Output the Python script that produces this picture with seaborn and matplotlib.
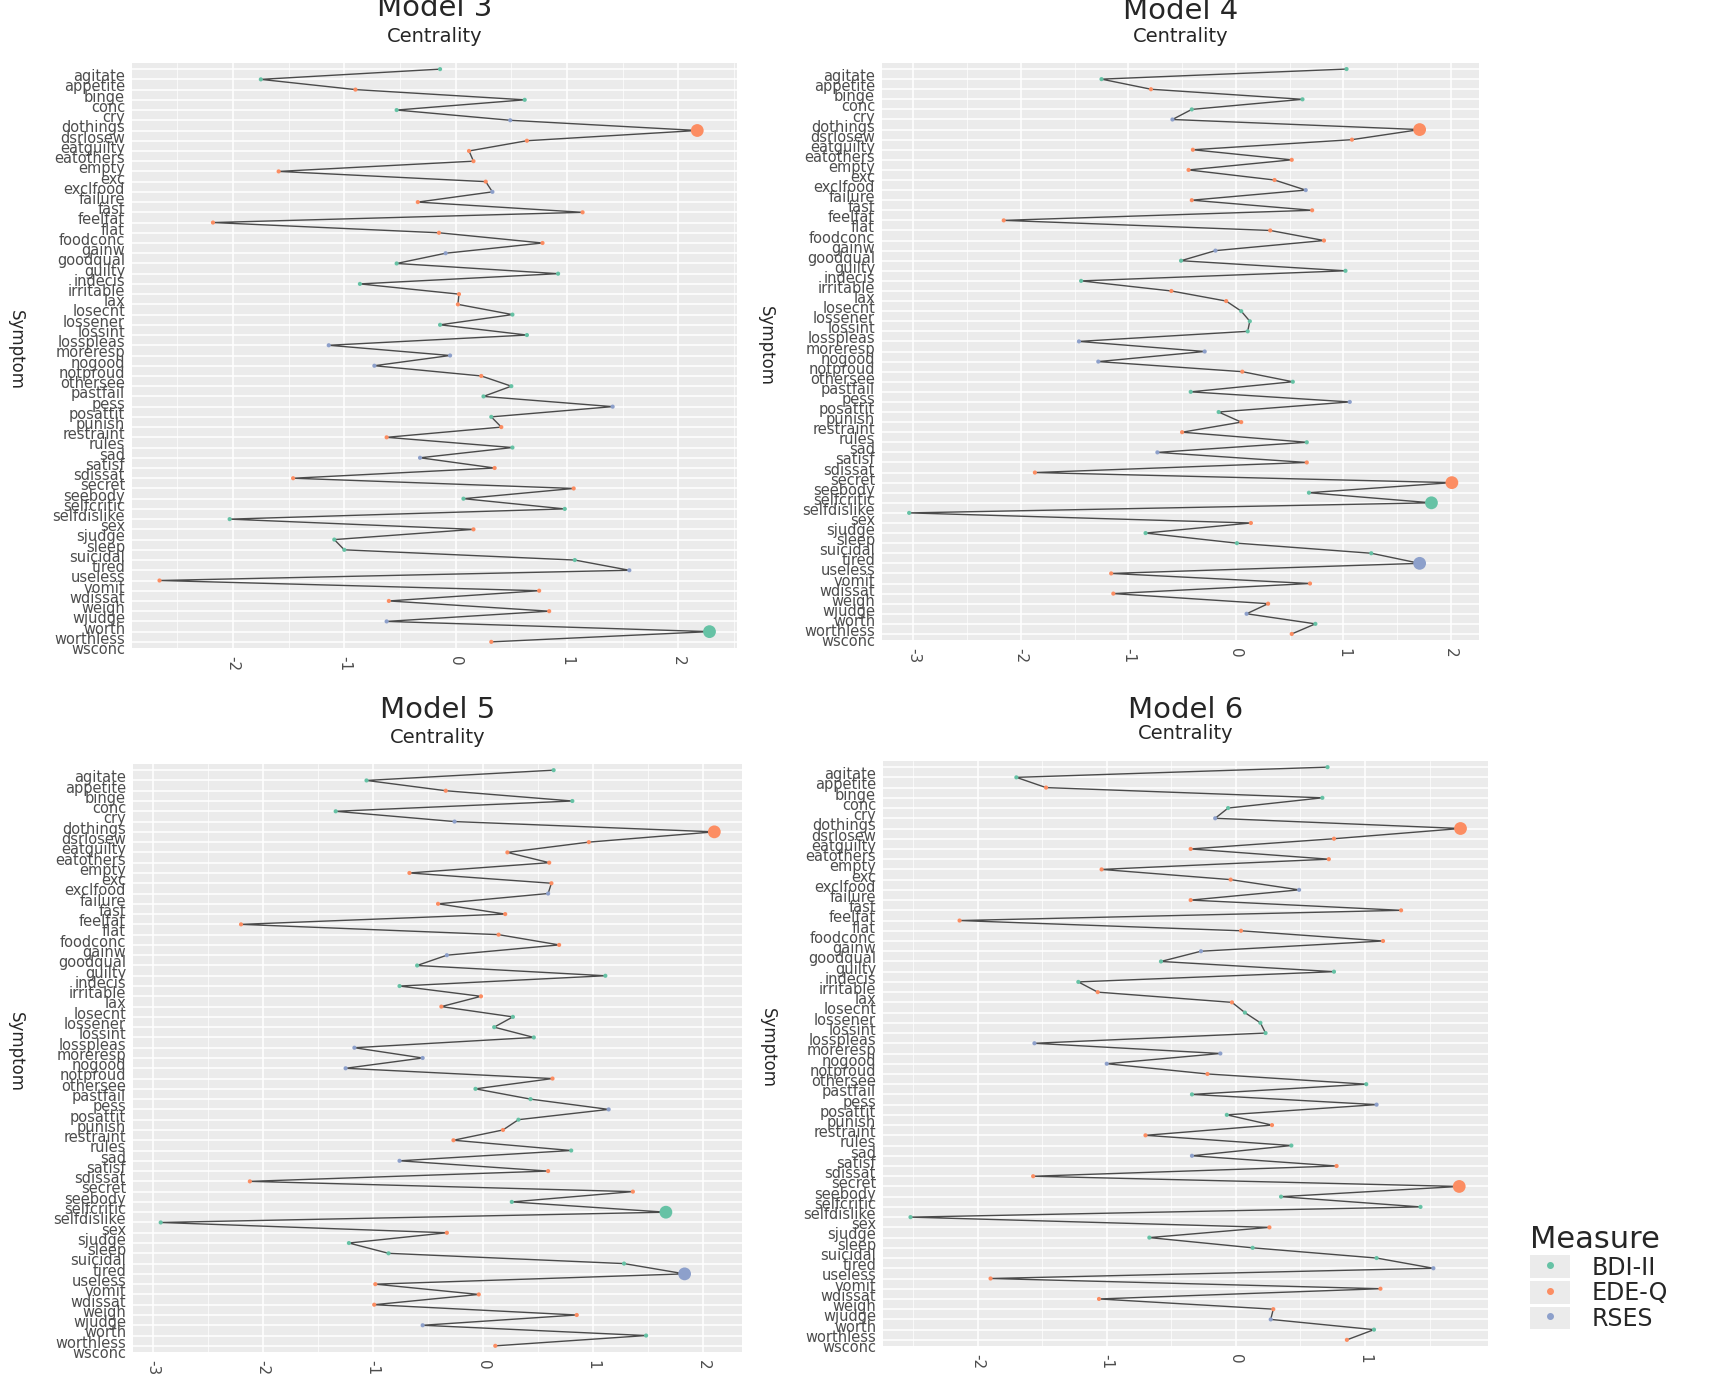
import numpy as np
import pandas as pd
import matplotlib
matplotlib.use('Agg')
import matplotlib.pyplot as plt
import matplotlib.ticker as mticker
import matplotlib.transforms as mtransforms
from matplotlib.patches import Patch
from matplotlib.lines import Line2D
from matplotlib.legend_handler import HandlerTuple
import seaborn as sns

# ── data ─────────────────────────────────────────────────────
symptoms = ['agitate', 'appetite', 'binge', 'conc', 'cry', 'dothings', 'dsrlosew',
            'eatguilty', 'eatothers', 'empty', 'exc', 'exclfood', 'failure', 'fast',
            'feelfat', 'flat', 'foodconc', 'gainw', 'goodqual', 'guilty', 'indecis',
            'irritable', 'lax', 'losecnt', 'lossener', 'lossint', 'losspleas',
            'moreresp', 'nogood', 'notproud', 'othersee', 'pastfail', 'pess',
            'posattit', 'punish', 'restraint', 'rules', 'sad', 'satisf', 'sdissat',
            'secret', 'seebody', 'selfcritic', 'selfdislike', 'sex', 'sjudge',
            'sleep', 'suicidal', 'tired', 'useless', 'vomit', 'wdissat', 'weigh',
            'wjudge', 'worth', 'worthless', 'wsconc']

measure = ['BDI-II', 'BDI-II', 'EDE-Q', 'BDI-II', 'BDI-II', 'RSES', 'EDE-Q',
           'EDE-Q', 'EDE-Q', 'EDE-Q', 'EDE-Q', 'EDE-Q', 'RSES', 'EDE-Q',
           'EDE-Q', 'EDE-Q', 'EDE-Q', 'EDE-Q', 'RSES', 'BDI-II', 'BDI-II',
           'BDI-II', 'EDE-Q', 'EDE-Q', 'BDI-II', 'BDI-II', 'BDI-II',
           'RSES', 'RSES', 'RSES', 'EDE-Q', 'BDI-II', 'BDI-II',
           'RSES', 'BDI-II', 'EDE-Q', 'EDE-Q', 'BDI-II', 'RSES', 'EDE-Q',
           'EDE-Q', 'EDE-Q', 'BDI-II', 'BDI-II', 'BDI-II', 'EDE-Q',
           'BDI-II', 'BDI-II', 'BDI-II', 'RSES', 'EDE-Q', 'EDE-Q', 'EDE-Q',
           'EDE-Q', 'RSES', 'BDI-II', 'EDE-Q']

model3 = [-0.14, -1.75, -0.90, 0.62, -0.53, 0.49, 2.17, 0.64, 0.12, 0.16, -1.59, 0.27,
          0.33, -0.34, 1.14, -2.18, -0.15, 0.78, -0.09, -0.53, 0.92, -0.86, 0.03, 0.02,
          0.51, -0.14, 0.64, -1.14, -0.05, -0.73, 0.23, 0.50, 0.25, 1.41, 0.32, 0.41,
          -0.62, 0.51, -0.32, 0.35, -1.46, 1.06, 0.07, 0.98, -2.03, 0.16, -1.09, -1.00,
          1.07, 1.56, -2.66, 0.75, -0.60, 0.84, -0.62, 2.28, 0.32]

model4 = [1.03, -1.25, -0.79, 0.62, -0.41, -0.59, 1.71, 1.08, -0.40, 0.52, -0.44, 0.36,
          0.65, -0.41, 0.71, -2.16, 0.32, 0.82, -0.19, -0.51, 1.02, -1.44, -0.60, -0.09,
          0.05, 0.13, 0.11, -1.46, -0.29, -1.28, 0.06, 0.53, -0.42, 1.06, -0.16, 0.05,
          -0.50, 0.66, -0.73, 0.66, -1.87, 2.01, 0.68, 1.82, -3.04, 0.14, -0.84, 0.01,
          1.26, 1.71, -1.16, 0.69, -1.14, 0.30, 0.10, 0.74, 0.52]

model5 = [0.64, -1.06, -0.34, 0.81, -1.34, -0.26, 2.10, 0.96, 0.22, 0.60, -0.67, 0.62,
          0.59, -0.41, 0.20, -2.20, 0.14, 0.69, -0.33, -0.60, 1.11, -0.76, -0.02, -0.38,
          0.27, 0.10, 0.46, -1.17, -0.55, -1.25, 0.63, -0.07, 0.43, 1.14, 0.32, 0.18,
          -0.27, 0.80, -0.76, 0.59, -2.12, 1.36, 0.26, 1.66, -2.93, -0.33, -1.22, -0.86,
          1.28, 1.83, -0.98, -0.04, -0.99, 0.85, -0.55, 1.48, 0.11]

model6 = [0.71, -1.70, -1.47, 0.67, -0.06, -0.16, 1.74, 0.76, -0.35, 0.72, -1.04, -0.04,
          0.49, -0.35, 1.28, -2.14, 0.04, 1.14, -0.27, -0.58, 0.76, -1.22, -1.07, -0.03,
          0.07, 0.19, 0.23, -1.56, -0.12, -1.00, -0.22, 1.01, -0.34, 1.09, -0.07, 0.28,
          -0.70, 0.43, -0.34, 0.78, -1.57, 1.73, 0.35, 1.43, -2.52, 0.26, -0.67, 0.13,
          1.09, 1.53, -1.90, 1.12, -1.06, 0.29, 0.27, 1.07, 0.86]

model_names = ['Model 3', 'Model 4', 'Model 5', 'Model 6']
model_values = [model3, model4, model5, model6]

# ── style ────────────────────────────────────────────────────
sns.set_theme(style='white')
plt.rcParams['font.family'] = ['DejaVu Sans']
plt.rcParams['axes.unicode_minus'] = False

W, H = 1709, 1376
PANEL_BG = '#EBEBEB'
TEXT_GRAY = '#4D4D4D'
measures = ['BDI-II', 'EDE-Q', 'RSES']
palette = dict(zip(measures, sns.color_palette('Set2', 3)))

# panel boxes in pixels: left, top, right, bottom
boxes = [(132, 63, 737, 648), (882, 63, 1479, 640),
         (133, 764, 742, 1352), (883, 761, 1488, 1346)]
title_pos = [(434, 8, 37), (1180, 11, 36), (437, 710, 738), (1185, 710, 734)]
ylab_x = [16, 766, 16, 768]

fig = plt.figure(figsize=(W / 100, H / 100), dpi=100)
label_shift = mtransforms.ScaledTranslation(0, -4.4 / 72, fig.dpi_scale_trans)

for name, vals, box, tp, yx in zip(model_names, model_values, boxes, title_pos, ylab_x):
    l, t, r, b = box
    ax = fig.add_axes([l / W, 1 - b / H, (r - l) / W, (b - t) / H])
    df = pd.DataFrame({'Symptom': symptoms, 'pos': np.arange(len(symptoms)),
                       'Centrality': vals, 'Measure': measure})
    df['big'] = df['Centrality'] > 1.645

    sns.lineplot(data=df, x='Centrality', y='pos', sort=False, estimator=None,
                 color='#4a4a4a', linewidth=1.0, ax=ax, zorder=2)
    sns.scatterplot(data=df, x='Centrality', y='pos', hue='Measure', hue_order=measures,
                    palette=palette, size='big', sizes={False: 9, True: 85},
                    linewidth=0, legend=False, ax=ax, zorder=3)

    ax.set_facecolor(PANEL_BG)
    for s in ax.spines.values():
        s.set_visible(False)
    ax.margins(x=0.05)
    ax.set_ylim(len(symptoms) - 0.4, -0.6)
    ax.set_yticks(range(len(symptoms)))
    ax.set_yticklabels(symptoms)
    ax.xaxis.set_major_locator(mticker.MultipleLocator(1))
    ax.xaxis.set_minor_locator(mticker.MultipleLocator(0.5))
    ax.xaxis.set_major_formatter(mticker.FuncFormatter(lambda v, _: f'{v:g}'))
    ax.grid(which='major', axis='both', color='white', linewidth=1.1)
    ax.grid(which='minor', axis='x', color='white', linewidth=0.5)
    ax.set_axisbelow(True)
    ax.tick_params(axis='both', which='major', length=3, width=0.8, color='#333333',
                   labelcolor=TEXT_GRAY)
    ax.tick_params(axis='x', which='minor', length=0)
    ax.tick_params(axis='y', labelsize=10.5, pad=2)
    ax.tick_params(axis='x', labelsize=11, labelrotation=270, pad=3)
    ax.set_xlabel('')
    ax.set_ylabel('')
    for lab in ax.get_yticklabels():
        lab.set_transform(lab.get_transform() + label_shift)

    cx = (l + r) / 2
    fig.text(cx / W, 1 - tp[1] / H, name, ha='center', va='center', fontsize=21)
    fig.text(cx / W, 1 - tp[2] / H, 'Centrality', ha='center', va='center', fontsize=14)
    fig.text(yx / W, 1 - ((t + b) / 2 - 6) / H, 'Symptom', rotation=270,
             ha='center', va='center', fontsize=12)

handles = [(Patch(facecolor=PANEL_BG, edgecolor='none'),
            Line2D([], [], marker='o', linestyle='', color=palette[m], markersize=4))
           for m in measures]
leg = fig.legend(handles, measures, title='Measure', loc='upper left',
                 bbox_to_anchor=(1509 / W, 1 - 1204 / H), frameon=False,
                 handler_map={tuple: HandlerTuple(ndivide=1, pad=0)},
                 handlelength=1.7, handleheight=1.1, labelspacing=0.05,
                 handletextpad=0.9, fontsize=17, title_fontsize=22, alignment='left')

fig.savefig('out.png', dpi=100)
